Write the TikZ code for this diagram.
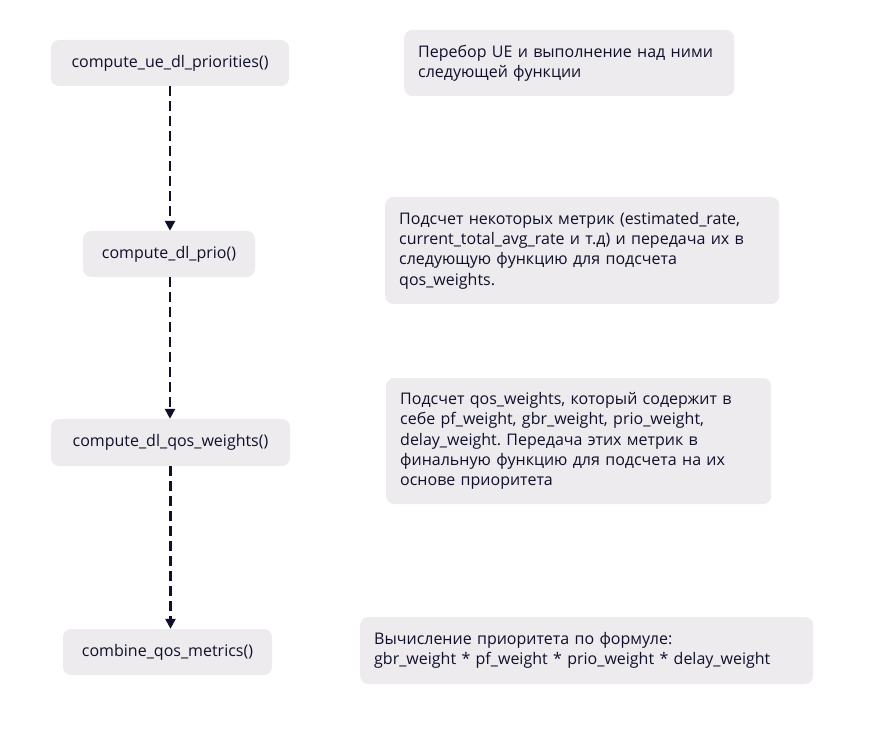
\documentclass[tikz,border=0pt]{standalone}
\usepackage{fontspec}
\setmainfont{Open Sans}
\usepackage{xcolor}
\usetikzlibrary{arrows.meta}
\frenchspacing

\definecolor{boxgray}{HTML}{EDEBEE}
\definecolor{inkblue}{HTML}{10102A}

\tikzset{
    func/.style={fill=boxgray, rounded corners=8pt, text=inkblue,
        font=\fontsize{16}{20}\selectfont, inner sep=0pt},
    note/.style={fill=boxgray, rounded corners=8pt, text=inkblue, align=left,
        font=\fontsize{16}{20.4}\selectfont, anchor=west, inner xsep=14pt, inner ysep=0pt},
    flow/.style={draw=inkblue, line width=2.4pt, dash pattern=on 10pt off 5pt,
        -{Triangle[length=10pt,width=10pt]}}
}

\begin{document}
\begin{tikzpicture}[x=1pt, y=-1pt]
            \useasboundingbox (0, 0) rectangle (876, 746);

            \node at (170, 63) [func, minimum width=238pt, minimum height=46pt] (UE) {compute\_ue\_dl\_priorities()};
            \node at (169, 254) [func, minimum width=172pt, minimum height=46pt] (PRIO) {compute\_dl\_prio()};
            \node at (170.5, 442.5) [func, minimum width=239pt, minimum height=47pt] (QOS) {compute\_dl\_qos\_weights()};
            \node at (167.5, 652) [func, minimum width=209pt, minimum height=46pt] (COMB) {combine\_qos\_metrics()};

            % descriptions
            \node at (404, 63) [note, minimum width=330pt, minimum height=66pt, text width=302pt] (dUE)
                {Перебор UE и выполнение над ними\\следующей функции};
            \node at (385, 250.5) [note, minimum width=394pt, minimum height=107pt, text width=366pt] (dPRIO)
                {Подсчет некоторых метрик (estimated\_rate,\\current\_total\_avg\_rate и т.д) и передача их в\\следующую функцию для подсчета\\qos\_weights.};
            \node at (386, 441) [note, minimum width=385pt, minimum height=126pt, text width=357pt] (dQOS)
                {Подсчет qos\_weights, который содержит в\\себе pf\_weight, gbr\_weight, prio\_weight,\\delay\_weight. Передача этих метрик в\\финальную функцию для подсчета на их\\основе приоритета};
            \node at (360, 650.5) [note, minimum width=453pt, minimum height=67pt, text width=425pt] (dCOMB)
                {Вычисление приоритета по формуле:\\gbr\_weight * pf\_weight * prio\_weight * delay\_weight};

            \draw[flow] (UE.south) to (UE.south |- PRIO.north);
            \draw[flow] (UE.south |- PRIO.south) to (UE.south |- QOS.north);
            \draw[flow] (QOS.south) to (QOS.south |- COMB.north);
\end{tikzpicture}
\end{document}
